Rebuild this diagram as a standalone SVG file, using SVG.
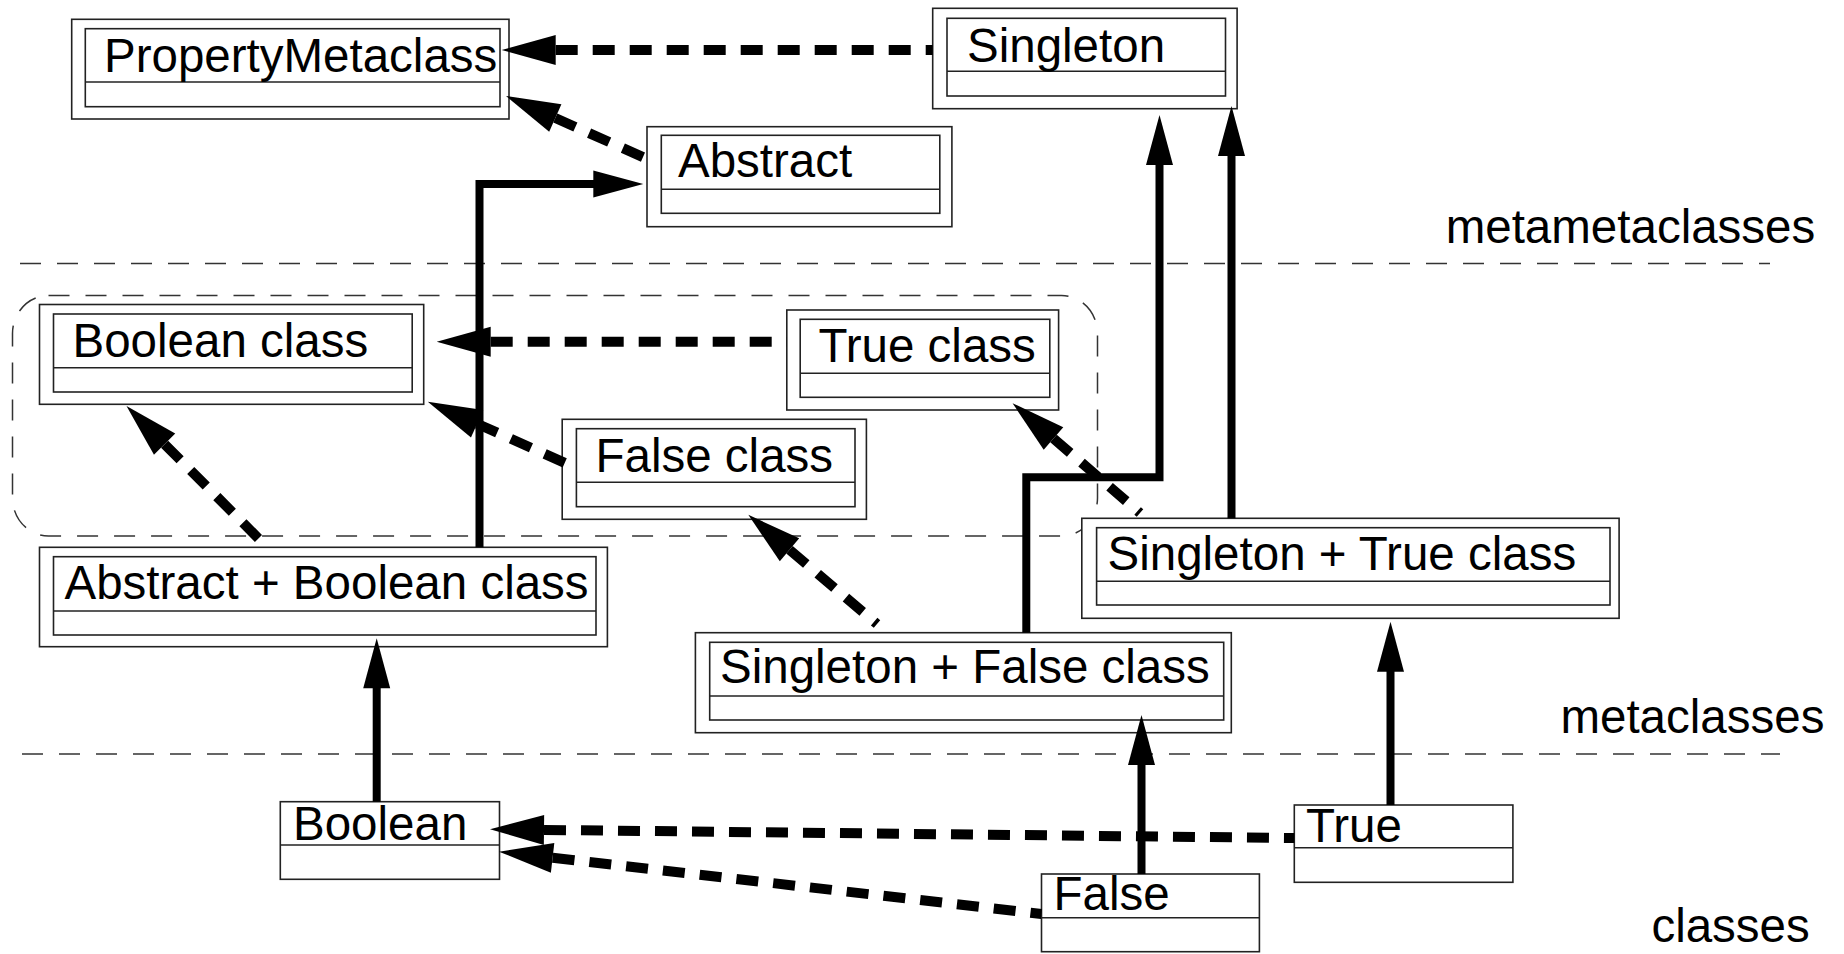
<svg xmlns="http://www.w3.org/2000/svg" width="1844" height="954" viewBox="0 0 1844 954">
<style>
.box{fill:#fff;stroke:#222;stroke-width:1.6}
.in{fill:none;stroke:#222;stroke-width:1.6}
.div{stroke:#222;stroke-width:1.6}
.t{font-family:"Liberation Sans",Arial,Helvetica,sans-serif;font-size:47.5px;fill:#000}
.sep{stroke:#333;stroke-width:1.5;stroke-dasharray:21 16;fill:none}
.dash{fill:none;stroke:#000;stroke-width:10;stroke-dasharray:22 15}
.solid{fill:none;stroke:#000;stroke-width:8}
</style>
<defs>
<marker id="hd" markerUnits="userSpaceOnUse" orient="auto" overflow="visible" markerWidth="1" markerHeight="1" refX="0" refY="0">
<path d="M0,-15 L-54,0 L0,15 z" fill="#000"/>
</marker>
<marker id="hs" markerUnits="userSpaceOnUse" orient="auto" overflow="visible" markerWidth="1" markerHeight="1" refX="0" refY="0">
<path d="M-1,-13.5 L49,0 L-1,13.5 z" fill="#000"/>
</marker>
</defs>
<rect width="1844" height="954" fill="#fff"/>

<g id="separators">
<line class="sep" x1="20" y1="263.5" x2="1770" y2="263.5"/>
<line class="sep" x1="22" y1="754" x2="1780" y2="754"/>
<rect id="group" class="sep" x="12.5" y="295.5" width="1085" height="240.5" rx="36" ry="38"/>
</g>

<g id="labels">
<text class="t" x="1445.7" y="242.7">metametaclasses</text>
<text class="t" x="1560.4" y="732.7">metaclasses</text>
<text class="t" x="1651.4" y="941.7">classes</text>
</g>

<g id="PropertyMetaclass">
<rect class="box" x="71.7" y="19.3" width="437.3" height="99.7"/>
<rect class="in" x="85.3" y="28.7" width="414.7" height="78"/>
<line class="div" x1="85.3" y1="82" x2="500" y2="82"/>
<text class="t" x="104" y="71.7">PropertyMetaclass</text>
</g>

<g id="Singleton">
<rect class="box" x="932.7" y="8.3" width="304.4" height="100.4"/>
<rect class="in" x="947" y="18.3" width="278.5" height="77.7"/>
<line class="div" x1="947" y1="71.3" x2="1225.5" y2="71.3"/>
<text class="t" x="967" y="61.7">Singleton</text>
</g>

<g id="Abstract">
<rect class="box" x="647" y="126.7" width="304.9" height="100"/>
<rect class="in" x="661.3" y="135.3" width="278.5" height="78"/>
<line class="div" x1="661.3" y1="189.3" x2="939.8" y2="189.3"/>
<text class="t" x="678" y="177.3">Abstract</text>
</g>

<g id="BooleanClass">
<rect class="box" x="39.5" y="304.5" width="384.2" height="99.8"/>
<rect class="in" x="53.5" y="314" width="358.7" height="78"/>
<line class="div" x1="53.5" y1="367.7" x2="412.2" y2="367.7"/>
<text class="t" x="72.5" y="356.7">Boolean class</text>
</g>

<g id="TrueClass">
<rect class="box" x="786.8" y="310" width="271.8" height="100"/>
<rect class="in" x="800.2" y="319.3" width="249.6" height="78"/>
<line class="div" x1="800.2" y1="373.3" x2="1049.8" y2="373.3"/>
<text class="t" x="818.5" y="361.7">True class</text>
</g>

<g id="FalseClass">
<rect class="box" x="562.2" y="419.3" width="304.2" height="100"/>
<rect class="in" x="576.4" y="428.7" width="278.6" height="78"/>
<line class="div" x1="576.4" y1="482.3" x2="855" y2="482.3"/>
<text class="t" x="595.5" y="471.7">False class</text>
</g>

<g id="AbstractBooleanClass">
<rect class="box" x="39.5" y="547.3" width="567.9" height="99.4"/>
<rect class="in" x="53.5" y="556.7" width="542.5" height="78.3"/>
<line class="div" x1="53.5" y1="611" x2="596" y2="611"/>
<text class="t" x="64.5" y="599">Abstract + Boolean class</text>
</g>

<g id="SingletonTrueClass">
<rect class="box" x="1081.8" y="518.3" width="537.3" height="100"/>
<rect class="in" x="1096.6" y="527.7" width="513.4" height="77.3"/>
<line class="div" x1="1096.6" y1="581.3" x2="1610" y2="581.3"/>
<text class="t" x="1107.5" y="570">Singleton + True class</text>
</g>

<g id="SingletonFalseClass">
<rect class="box" x="695.4" y="632.7" width="535.9" height="100"/>
<rect class="in" x="709.7" y="642.3" width="514" height="77.7"/>
<line class="div" x1="709.7" y1="696" x2="1223.7" y2="696"/>
<text class="t" x="720" y="683.3">Singleton + False class</text>
</g>

<g id="Boolean">
<rect class="box" x="280.3" y="801.7" width="219.2" height="77.6"/>
<line class="div" x1="280.3" y1="845" x2="499.5" y2="845"/>
<text class="t" x="293" y="840">Boolean</text>
</g>

<g id="True">
<rect class="box" x="1294.3" y="805" width="218.6" height="77.3"/>
<line class="div" x1="1294.3" y1="847.7" x2="1512.9" y2="847.7"/>
<text class="t" x="1306" y="841.7">True</text>
</g>

<g id="False">
<rect class="box" x="1041.5" y="874" width="217.9" height="77.7"/>
<line class="div" x1="1041.5" y1="917.7" x2="1259.4" y2="917.7"/>
<text class="t" x="1053.5" y="910">False</text>
</g>

<g id="connectors">
<!-- dashed: drawn from arrowhead base back to source -->
<path class="dash" marker-start="url(#hd)" d="M555.7,50 L932.7,50"/>
<path class="dash" marker-start="url(#hd)" d="M555.3,118 L645,158"/>
<path class="dash" marker-start="url(#hd)" d="M490.7,341.7 L786.8,341.7"/>
<path class="dash" marker-start="url(#hd)" d="M477.1,423.7 L565,463"/>
<path class="dash" marker-start="url(#hd)" d="M164.6,444.2 L265,545"/>
<path class="dash" marker-start="url(#hd)" d="M1053.5,438.5 L1140,513"/>
<path class="dash" marker-start="url(#hd)" d="M789.5,549.8 L877,624"/>
<path class="dash" marker-start="url(#hd)" d="M544,829.9 L1294.3,838"/>
<path class="dash" marker-start="url(#hd)" d="M552.6,857.8 L1041.5,914"/>
<!-- solid -->
<path class="solid" marker-end="url(#hs)" d="M479.5,547.3 L479.5,184 L594.3,184"/>
<path class="solid" marker-end="url(#hs)" d="M376.7,801.7 L376.7,687.3"/>
<path class="solid" marker-end="url(#hs)" d="M1026.3,632.7 L1026.3,477.3 L1159.5,477.3 L1159.5,164"/>
<path class="solid" marker-end="url(#hs)" d="M1231.5,518.3 L1231.5,155"/>
<path class="solid" marker-end="url(#hs)" d="M1390.5,805 L1390.5,670.7"/>
<path class="solid" marker-end="url(#hs)" d="M1141.5,874 L1141.5,764"/>
</g>
</svg>
